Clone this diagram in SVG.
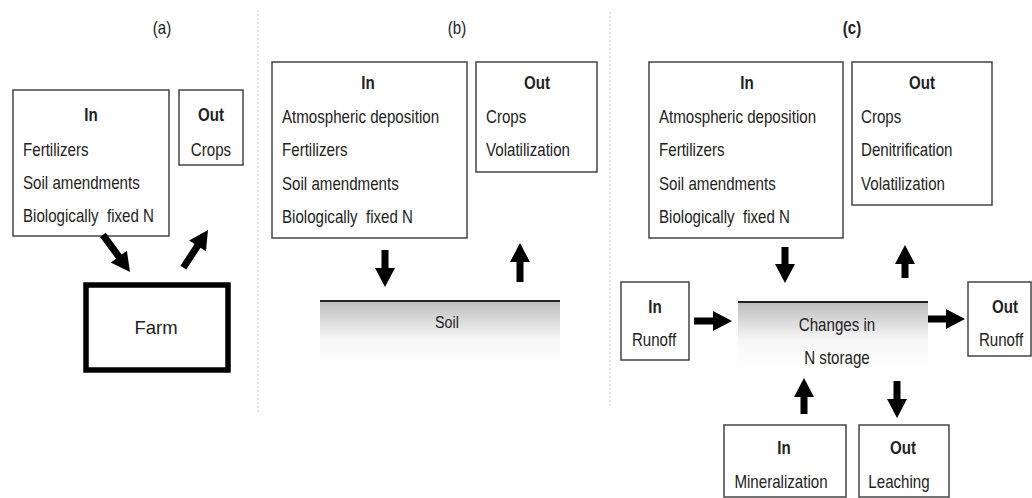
<svg xmlns="http://www.w3.org/2000/svg" width="1032" height="498" viewBox="0 0 1032 498">
<style>
text{font-family:"Liberation Sans",Arial,sans-serif;fill:#222;font-size:18px;white-space:pre}
.h{font-weight:bold;text-anchor:middle}
.c{text-anchor:middle}
.box{fill:#fff;stroke:#444;stroke-width:1.5}
.sep{stroke:#c8c8c8;stroke-width:1;stroke-dasharray:2 2}
.arr{fill:#000}
.surf{stroke:#222;stroke-width:2}
</style>
<defs>
<linearGradient id="g" x1="0" y1="0" x2="0" y2="1">
<stop offset="0" stop-color="#bcbcbc"/>
<stop offset="0.55" stop-color="#f6f6f6"/>
<stop offset="1" stop-color="#fff"/>
</linearGradient>
</defs>
<rect width="1032" height="498" fill="#fff"/>
<line class="sep" x1="258" y1="10" x2="258" y2="414"/>
<line class="sep" x1="610" y1="12" x2="610" y2="407"/>
<text transform="translate(162,34) scale(.84,1)" class="c">(a)</text>
<text transform="translate(457,34) scale(.84,1)" class="c">(b)</text>
<text transform="translate(852,34) scale(.84,1)" class="h">(c)</text>

<g id="a-in">
<rect class="box" x="13" y="90" width="156" height="146"/>
<text transform="translate(91,121) scale(.84,1)" class="h">In</text>
<text transform="translate(23,156) scale(.84,1)">Fertilizers</text>
<text transform="translate(23,189) scale(.84,1)">Soil amendments</text>
<text transform="translate(23,222) scale(.84,1)">Biologically  fixed N</text>
</g>
<g id="a-out">
<rect class="box" x="179" y="90" width="64" height="75"/>
<text transform="translate(211,121) scale(.84,1)" class="h">Out</text>
<text transform="translate(211,156) scale(.84,1)" class="c">Crops</text>
</g>
<g id="a-farm">
<rect x="86" y="285" width="142" height="85" fill="#fff" stroke="#000" stroke-width="5.5"/>
<text x="156" y="334" class="c" style="font-size:18.5px">Farm</text>
</g>

<g id="b-in">
<rect class="box" x="272" y="62" width="195" height="176"/>
<text transform="translate(368,89) scale(.84,1)" class="h">In</text>
<text transform="translate(282,123) scale(.84,1)">Atmospheric deposition</text>
<text transform="translate(282,156) scale(.84,1)">Fertilizers</text>
<text transform="translate(282,190) scale(.84,1)">Soil amendments</text>
<text transform="translate(282,223) scale(.84,1)">Biologically  fixed N</text>
</g>
<g id="b-out">
<rect class="box" x="476" y="62" width="121" height="110"/>
<text transform="translate(537,89) scale(.84,1)" class="h">Out</text>
<text transform="translate(486,123) scale(.84,1)">Crops</text>
<text transform="translate(486,156) scale(.84,1)">Volatilization</text>
</g>
<g id="b-soil">
<rect x="320" y="301" width="240" height="68" fill="url(#g)"/>
<line class="surf" x1="320" y1="301" x2="560" y2="301"/>
<text transform="translate(447,328) scale(.84,1)" class="c" style="font-size:17px">Soil</text>
</g>

<g id="c-in">
<rect class="box" x="649" y="62" width="194" height="176"/>
<text transform="translate(747,89) scale(.84,1)" class="h">In</text>
<text transform="translate(659,123) scale(.84,1)">Atmospheric deposition</text>
<text transform="translate(659,156) scale(.84,1)">Fertilizers</text>
<text transform="translate(659,190) scale(.84,1)">Soil amendments</text>
<text transform="translate(659,223) scale(.84,1)">Biologically  fixed N</text>
</g>
<g id="c-out">
<rect class="box" x="852" y="62" width="140" height="143"/>
<text transform="translate(922,89) scale(.84,1)" class="h">Out</text>
<text transform="translate(861,123) scale(.84,1)">Crops</text>
<text transform="translate(861,156) scale(.84,1)">Denitrification</text>
<text transform="translate(861,190) scale(.84,1)">Volatilization</text>
</g>
<g id="c-storage">
<rect x="738" y="302" width="190" height="68" fill="url(#g)"/>
<line class="surf" x1="738" y1="302" x2="928" y2="302"/>
<text transform="translate(837,331) scale(.84,1)" class="c">Changes in</text>
<text transform="translate(837,364) scale(.84,1)" class="c">N storage</text>
</g>
<g id="c-in-runoff">
<rect class="box" x="621" y="282" width="68" height="78"/>
<text transform="translate(655,313) scale(.84,1)" class="h">In</text>
<text transform="translate(654,346) scale(.84,1)" class="c">Runoff</text>
</g>
<g id="c-out-runoff">
<rect class="box" x="968" y="282" width="63" height="74"/>
<text transform="translate(1005,313) scale(.84,1)" class="h">Out</text>
<text transform="translate(1001,346) scale(.84,1)" class="c">Runoff</text>
</g>
<g id="c-in-min">
<rect class="box" x="724" y="425" width="122" height="72"/>
<text transform="translate(784,454) scale(.84,1)" class="h">In</text>
<text transform="translate(781,488) scale(.84,1)" class="c">Mineralization</text>
</g>
<g id="c-out-leach">
<rect class="box" x="859" y="425" width="90" height="72"/>
<text transform="translate(903,454) scale(.84,1)" class="h">Out</text>
<text transform="translate(899,488) scale(.84,1)" class="c">Leaching</text>
</g>

<g id="connectors">
<path class="arr" d="M-46,-3.5 H-19 V-10 L0,0 L-19,10 V3.5 H-46 Z" transform="translate(130,272) rotate(53.9)"/>
<path class="arr" d="M-45,-3.5 H-19 V-10 L0,0 L-19,10 V3.5 H-45 Z" transform="translate(208,230) rotate(-56.7)"/>
<path class="arr" d="M-37,-3.5 H-19 V-10 L0,0 L-19,10 V3.5 H-37 Z" transform="translate(385,287) rotate(90)"/>
<path class="arr" d="M-39,-3.5 H-19 V-10 L0,0 L-19,10 V3.5 H-39 Z" transform="translate(520,243) rotate(-90)"/>
<path class="arr" d="M-36,-3.5 H-19 V-10 L0,0 L-19,10 V3.5 H-36 Z" transform="translate(785,283) rotate(90)"/>
<path class="arr" d="M-33,-3.5 H-19 V-10 L0,0 L-19,10 V3.5 H-33 Z" transform="translate(905,245) rotate(-90)"/>
<path class="arr" d="M-38,-3.5 H-19 V-10 L0,0 L-19,10 V3.5 H-38 Z" transform="translate(732,321)"/>
<path class="arr" d="M-37,-3.5 H-19 V-10 L0,0 L-19,10 V3.5 H-37 Z" transform="translate(965,319)"/>
<path class="arr" d="M-36,-3.5 H-19 V-10 L0,0 L-19,10 V3.5 H-36 Z" transform="translate(804,378) rotate(-90)"/>
<path class="arr" d="M-37,-3.5 H-19 V-10 L0,0 L-19,10 V3.5 H-37 Z" transform="translate(897,418) rotate(90)"/>
</g>
</svg>
